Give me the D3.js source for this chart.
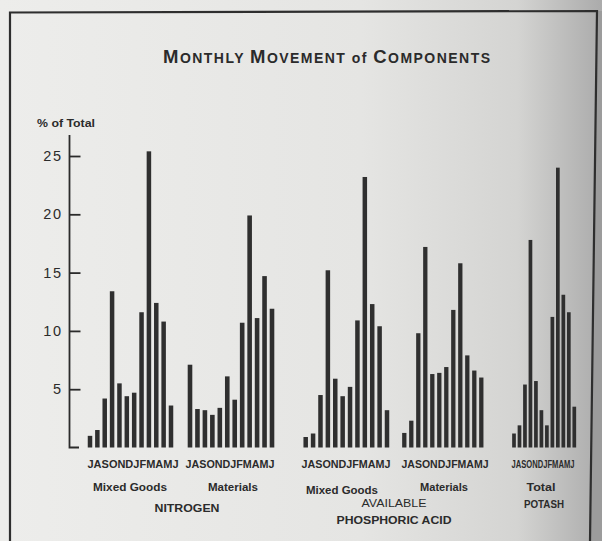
<!DOCTYPE html>
<html>
<head>
<meta charset="utf-8">
<script src="https://cdn.jsdelivr.net/npm/d3@7"></script>
<style>
  html, body { margin: 0; padding: 0; background: #e9e9e7; }
  svg { display: block; }
  text { font-family: "Liberation Sans", Arial, sans-serif; fill: #2b2b2b; }
</style>
</head>
<body>
<div id="chart"></div>
<script>
// data (% of yearly total, July .. June)
const months = ["Jul", "Aug", "Sep", "Oct", "Nov", "Dec", "Jan", "Feb", "Mar", "Apr", "May", "Jun"];
const monthLetters = "JASONDJFMAMJ";
const yTicks = [5, 10, 15, 20, 25];

const nitrogenMixed = [1.0, 1.5, 4.2, 13.4, 5.5, 4.4, 4.7, 11.6, 25.4, 12.4, 10.8, 3.6];
const nitrogenMaterials = [7.1, 3.3, 3.2, 2.8, 3.4, 6.1, 4.1, 10.7, 19.9, 11.1, 14.7, 11.9];
const phosMixed = [0.9, 1.2, 4.5, 15.2, 5.9, 4.4, 5.2, 10.9, 23.2, 12.3, 10.4, 3.2];
const phosMaterials = [1.25, 2.3, 9.8, 17.2, 6.3, 6.4, 6.9, 11.8, 15.8, 7.9, 6.6, 6.0];
const potashTotal = [1.2, 1.9, 5.4, 17.8, 5.7, 3.2, 1.9, 11.2, 24.0, 13.1, 11.6, 3.5];

const groupLabels = ["Mixed Goods", "Materials", "Mixed Goods", "Materials", "Total"];
const componentLabels = [["NITROGEN"], ["AVAILABLE", "PHOSPHORIC ACID"], ["POTASH"]];

const series = [nitrogenMixed, nitrogenMaterials, phosMixed, phosMaterials, potashTotal];

// layout (the scan is a bit squeezed at the right, so each group gets its own span)
const groupLayout = [
  { x0: 90,    x1: 171,   bw: 4.5, lx: 133, lw: 91, gx: 130, gy: 491, gw: 74 },
  { x0: 190,   x1: 272,   bw: 4.6, lx: 230, lw: 89, gx: 233, gy: 491, gw: 50 },
  { x0: 305.7, x1: 387,   bw: 4.5, lx: 346, lw: 89, gx: 342, gy: 494, gw: 72 },
  { x0: 404.3, x1: 481.3, bw: 4.3, lx: 445, lw: 87, gx: 444, gy: 491, gw: 48 },
  { x0: 514,   x1: 574.3, bw: 3.7, lx: 543, lw: 63, gx: 541, gy: 491, gw: 29 }
];
const componentLayout = [
  { x: 187, y: [512], w: [65], bold: [true] },
  { x: 394, y: [507, 524], w: [65, 115], bold: [false, true] },
  { x: 544, y: [508], w: [40], bold: [true] }
];

const width = 602, height = 541;

const svg = d3.select("#chart").append("svg")
    .attr("width", width)
    .attr("height", height);

// paper
const grad = svg.append("defs").append("linearGradient")
    .attr("id", "paper")
    .attr("x1", "0").attr("x2", "1").attr("y1", "0").attr("y2", "0");
grad.append("stop").attr("offset", "0").attr("stop-color", "#ededeb");
grad.append("stop").attr("offset", "0.6").attr("stop-color", "#e5e5e3");
grad.append("stop").attr("offset", "0.86").attr("stop-color", "#d4d4d2");
grad.append("stop").attr("offset", "1").attr("stop-color", "#ababab");

svg.append("rect")
    .attr("width", width).attr("height", height)
    .attr("fill", "url(#paper)");

svg.append("path")
    .attr("d", "M597,11 L602,11 L602,541 L590,541 Z")
    .attr("fill", "#9c9c9c");

// frame
svg.append("path")
    .attr("d", "M10,541 L10,12.5 L597,11 L590,541")
    .attr("fill", "none")
    .attr("stroke", "#2e2e2e")
    .attr("stroke-width", 2.2);

// title in small caps
const title = svg.append("text")
    .attr("x", 163).attr("y", 63)
    .attr("textLength", 327)
    .attr("lengthAdjust", "spacing")
    .attr("font-weight", "bold");
[["M", 18.5], ["ONTHLY ", 14], ["M", 18.5], ["OVEMENT ", 14], ["of ", 14], ["C", 18.5], ["OMPONENTS", 14]]
  .forEach(([t, s]) => title.append("tspan").attr("font-size", s).text(t));

svg.append("text")
    .attr("x", 37).attr("y", 127)
    .attr("font-size", 11).attr("font-weight", "bold")
    .attr("textLength", 58).attr("lengthAdjust", "spacingAndGlyphs")
    .text("% of Total");

// y axis
const y = d3.scaleLinear().domain([0, 25]).range([447.5, 156]);

const yAxis = d3.axisLeft(y)
    .tickValues(yTicks)
    .tickSizeInner(-11)
    .tickSizeOuter(0)
    .tickPadding(7)
    .tickFormat(d3.format("d"));

const ax = svg.append("g")
    .attr("transform", "translate(69.5,0)")
    .call(yAxis);
ax.select(".domain").remove();
ax.selectAll(".tick line").attr("stroke", "#2b2b2b").attr("stroke-width", 1.8);
ax.selectAll(".tick text")
    .attr("font-size", 14.5)
    .attr("letter-spacing", 1.5)
    .attr("fill", "#2b2b2b")
    .style("font-family", "'Liberation Sans', Arial, sans-serif");

svg.append("path")
    .attr("d", `M69.5,135 V${y(0)} H79`)
    .attr("fill", "none")
    .attr("stroke", "#2b2b2b")
    .attr("stroke-width", 1.8);

// bars
series.forEach((vals, gi) => {
  const L = groupLayout[gi];
  const x = d3.scalePoint().domain(months).range([L.x0, L.x1]);

  svg.append("g")
    .selectAll("rect")
    .data(vals)
    .enter().append("rect")
      .attr("x", (d, i) => x(months[i]) - L.bw / 2)
      .attr("y", (d) => y(d))
      .attr("width", L.bw)
      .attr("height", (d) => y(0) - y(d))
      .attr("fill", "#2f2f2f");

  svg.append("text")
      .attr("x", L.lx).attr("y", 468)
      .attr("text-anchor", "middle")
      .attr("font-size", 10.5).attr("font-weight", "bold")
      .attr("textLength", L.lw).attr("lengthAdjust", "spacingAndGlyphs")
      .text(monthLetters);

  svg.append("text")
      .attr("x", L.gx).attr("y", L.gy)
      .attr("text-anchor", "middle")
      .attr("font-size", 11).attr("font-weight", "bold")
      .attr("textLength", L.gw).attr("lengthAdjust", "spacingAndGlyphs")
      .text(groupLabels[gi]);
});

// component names
componentLabels.forEach((lines, ci) => {
  const L = componentLayout[ci];
  lines.forEach((t, li) => {
    svg.append("text")
        .attr("x", L.x).attr("y", L.y[li])
        .attr("text-anchor", "middle")
        .attr("font-size", 11.5)
        .attr("font-weight", L.bold[li] ? "bold" : "normal")
        .attr("textLength", L.w[li]).attr("lengthAdjust", "spacingAndGlyphs")
        .text(t);
  });
});
</script>
</body>
</html>
